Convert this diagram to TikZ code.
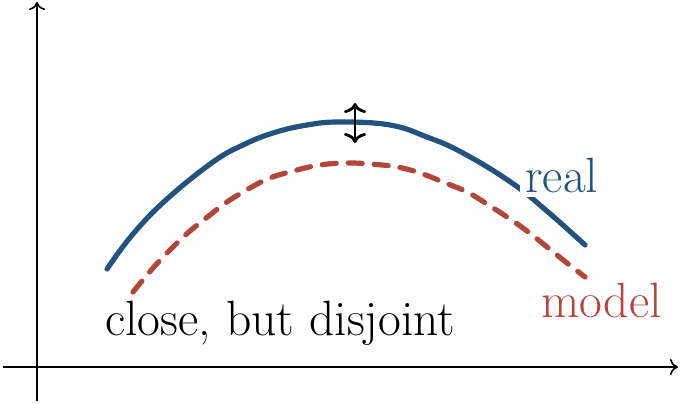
\documentclass[tikz,border=0pt]{standalone}
\usetikzlibrary{arrows.meta}
\definecolor{realblue}{RGB}{34,82,126}
\definecolor{modelred}{RGB}{178,70,58}
\begin{document}
\begin{tikzpicture}[x=0.5pt,y=-0.5pt,
  axis/.style={line width=0.8pt,-{To[length=4pt,width=8pt]}},
  realcurve/.style={realblue,line width=2.6pt,line cap=round},
  modelcurve/.style={modelred,line width=2.6pt,dash pattern=on 7pt off 6pt,line cap=round},
  lbl/.style={inner sep=2.5pt,font=\fontsize{24.8}{29}\selectfont}]
\useasboundingbox (0,0) rectangle (680,403);
% axes
\coordinate (xs) at (3,367);
\coordinate (xe) at (678,367);
\coordinate (ys) at (37,401);
\coordinate (ye) at (37,2);
\draw[axis] (xs) -- (xe);
\draw[axis] (ys) -- (ye);
% real curve
\draw[realcurve] plot[smooth,tension=0.7] coordinates {(107,269) (133,234) (167,199) (213,162) (243,145) (273,133) (307,125) (340,122) (390,125) (427,137) (463,153) (512,183) (548,212) (585,245)};
% model curve
\draw[modelcurve] plot[smooth,tension=0.7] coordinates {(133,292) (153,268) (172,248) (190,231) (210,215) (227,202) (250,188) (270,178) (297,170) (320,165) (345,163) (370,164) (397,167) (420,173) (443,182) (467,192) (487,204) (507,217) (527,231) (547,247) (567,263) (585,277)};
% labels
\node[lbl,text=realblue,fill=white,anchor=base west] (real) at (520,192) {real};
\node[lbl,text=modelred,anchor=base west] (model) at (536,317) {model};
\node[lbl,anchor=base west] (close) at (100,335) {close, but disjoint};
% gap arrow
\coordinate (gt) at (355,103);
\coordinate (gb) at (355,143);
\draw[line width=1.4pt,{To[length=5pt,width=11pt]}-{To[length=5pt,width=11pt]}] (gt) -- (gb);
\end{tikzpicture}
\end{document}
